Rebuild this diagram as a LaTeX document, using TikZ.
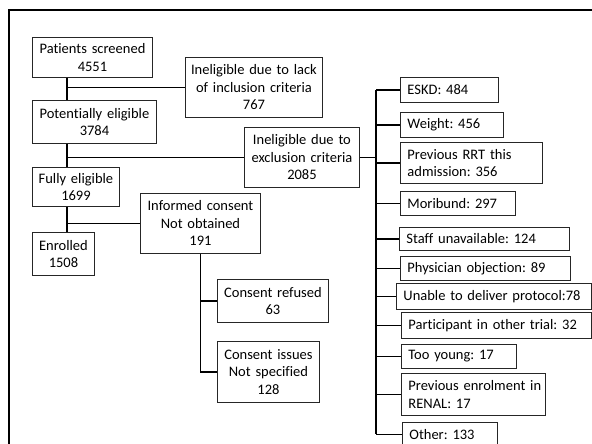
\documentclass[tikz,border=0pt]{standalone}
\usepackage{fontspec}
\setmainfont{Carlito}[Ligatures={NoCommon}]
\frenchspacing
\begin{document}
\begin{tikzpicture}[x=1pt,y=-1pt,
  box/.style={draw=black!85, line width=0.9pt, inner ysep=0pt, anchor=north west, font=\fontsize{14.5}{17.5}\selectfont},
  cbox/.style={box, inner xsep=0pt, align=center},
  lbox/.style={box, inner xsep=0pt, align=left, execute at begin node={\leftskip=7pt\relax}},
  link/.style={draw=black, line width=1.6pt},
]
\path[use as bounding box] (0,0) rectangle (592,444);
\clip (0,0) rectangle (592,444);
\fill[white] (0,0) rectangle (592,444);
\draw[line width=2pt] (9,10) rectangle (620,470);

% left column
\node[cbox, text width=120pt, minimum height=40pt] (ps) at (32,37) {Patients screened\\4551};
\node[cbox, text width=137pt, minimum height=60pt] (inc) at (185,57) {Ineligible due to lack\\of inclusion criteria\\767};
\node[cbox, text width=124pt, minimum height=43pt] (pe) at (32,100) {Potentially eligible\\3784};
\node[cbox, text width=115pt, minimum height=60pt] (exc) at (244,127) {Ineligible due to\\exclusion criteria\\2085};
\node[cbox, text width=87pt, minimum height=39pt] (fe) at (32,167) {Fully eligible\\1699};
\node[cbox, text width=120pt, minimum height=60pt] (ic) at (140,193) {Informed consent\\Not obtained\\191};
\node[cbox, text width=62pt, minimum height=43pt] (en) at (32,232) {Enrolled\\1508};
\node[cbox, text width=111pt, minimum height=43pt] (cr) at (217,279) {Consent refused\\63};
\node[cbox, text width=102pt, minimum height=61pt] (ci) at (217,341) {Consent issues\\Not specified\\128};

% right column
\node[lbox, text width=98pt, minimum height=25pt] (eskd) at (400,77) {ESKD: 484};
\node[lbox, text width=103pt, minimum height=25pt] (wt) at (400,112) {Weight: 456};
\node[lbox, text width=142pt, minimum height=41pt] (rrt) at (400,142) {Previous RRT this\\admission: 356};
\node[lbox, text width=115pt, minimum height=24pt] (mor) at (400,191) {Moribund: 297};
\node[lbox, text width=170pt, minimum height=23pt] (staff) at (399,227) {Staff unavailable: 124};
\node[lbox, text width=170pt, minimum height=24pt] (phys) at (400,256) {Physician objection: 89};
\node[lbox, text width=195pt, minimum height=26pt] (unable) at (396,283) {Unable to deliver protocol:78};
\node[lbox, text width=190pt, minimum height=26pt] (part) at (401,312) {Participant in other trial: 32};
\node[lbox, text width=115pt, minimum height=24pt] (young) at (401,344) {Too young: 17};
\node[lbox, text width=144pt, minimum height=42pt] (prev) at (401,373) {Previous enrolment in\\RENAL: 17};
\node[lbox, text width=95pt, minimum height=24pt] (other) at (402,422) {Other: 133};

\coordinate (trunk) at (67,0);
\coordinate (bus) at (376,0);

% left trunk
\draw[link] (ps.south -| trunk) -- (pe.north -| trunk);
\draw[link] (pe.south -| trunk) -- (fe.north -| trunk);
\draw[link] (fe.south -| trunk) -- (en.north -| trunk);
\draw[link] (inc.west -| trunk) -- (inc.west);
\draw[link] (exc.west -| trunk) -- (exc.west);
\draw[link] (ic.west -| trunk) -- (ic.west);

% consent branch
\draw[link] (ic.south) |- (cr.west);
\draw[link] (ic.south) |- (ci.west);

% exclusion bus
\draw[link] (exc.east) -- (bus |- exc.east);
\draw[link] (bus |- eskd.west) -- (bus |- other.west);
\foreach \n in {eskd,wt,rrt,mor,staff,phys,unable,part,young,prev,other}
  \draw[link] (bus |- \n.west) -- (\n.west);
\end{tikzpicture}
\end{document}
